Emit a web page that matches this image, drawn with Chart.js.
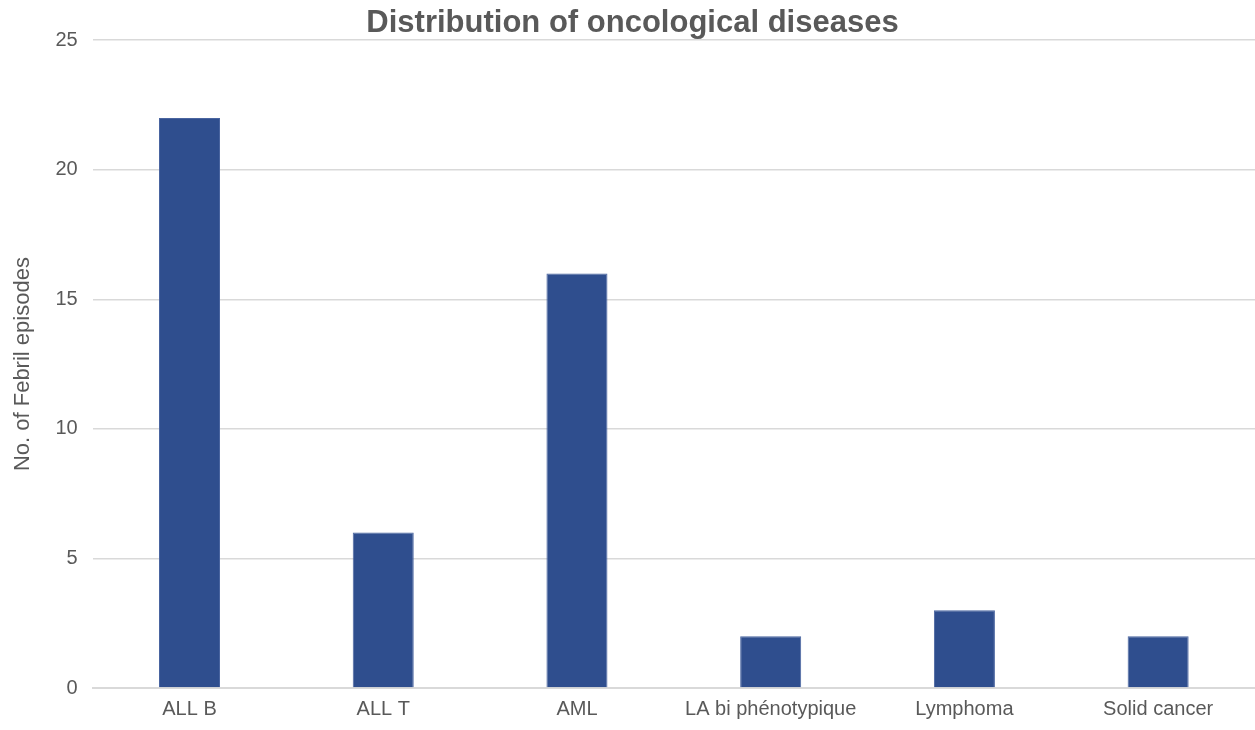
<!DOCTYPE html>
<html>
<head>
<meta charset="utf-8">
<title>Distribution of oncological diseases</title>
<script src="https://cdn.jsdelivr.net/npm/chart.js@4/dist/chart.umd.min.js"></script>
<style>
  html, body { margin: 0; padding: 0; background: #fff; }
  #wrap { width: 1255px; height: 730px; }
</style>
</head>
<body>
<div id="wrap"><canvas id="chart" width="1255" height="730"></canvas></div>
<script>
// Dados do gráfico
const categories = ['ALL B', 'ALL T', 'AML', 'LA bi phénotypique', 'Lymphoma', 'Solid cancer'];
const episodes = [22, 6, 16, 2, 3, 2];
const yTicks = [0, 5, 10, 15, 20, 25];

const fontFamily = '"Liberation Sans Narrow", "Arial Narrow", "Liberation Sans", Arial, sans-serif';
const textColor = '#595959';

const ctx = document.getElementById('chart').getContext('2d');

new Chart(ctx, {
  type: 'bar',
  data: {
    labels: categories,
    datasets: [{
      label: 'No. of Febril episodes',
      data: episodes,
      backgroundColor: '#2F4E8E',
      borderColor: '#4A65A0',
      borderWidth: 1,
      categoryPercentage: 1,
      barPercentage: 0.315
    }]
  },
  options: {
    responsive: false,
    animation: false,
    layout: { padding: { top: 0, right: 0, left: 10, bottom: 0 } },
    plugins: {
      legend: { display: false },
      tooltip: { enabled: false },
      title: {
        display: true,
        text: 'Distribution of oncological diseases',
        color: textColor,
        font: { family: fontFamily, size: 31, weight: 'bold' },
        padding: { top: 5, bottom: -2 }
      }
    },
    scales: {
      x: {
        grid: { display: false, drawTicks: false },
        border: { color: '#d9d9d9', width: 2 },
        ticks: {
          color: textColor,
          font: { family: fontFamily, size: 20 },
          padding: 9,
          maxRotation: 0,
          autoSkip: false
        }
      },
      y: {
        min: 0,
        max: 25,
        afterBuildTicks: (axis) => {
          axis.ticks = yTicks.map(v => ({ value: v }));
        },
        grid: { color: '#d9d9d9', lineWidth: 1.5, drawTicks: false },
        border: { display: false },
        ticks: {
          color: textColor,
          font: { family: fontFamily, size: 20 },
          padding: 15
        },
        title: {
          display: true,
          text: 'No. of Febril episodes',
          color: textColor,
          font: { family: fontFamily, size: 22 },
          padding: { top: 0, bottom: 4 }
        }
      }
    }
  }
});
</script>
</body>
</html>
